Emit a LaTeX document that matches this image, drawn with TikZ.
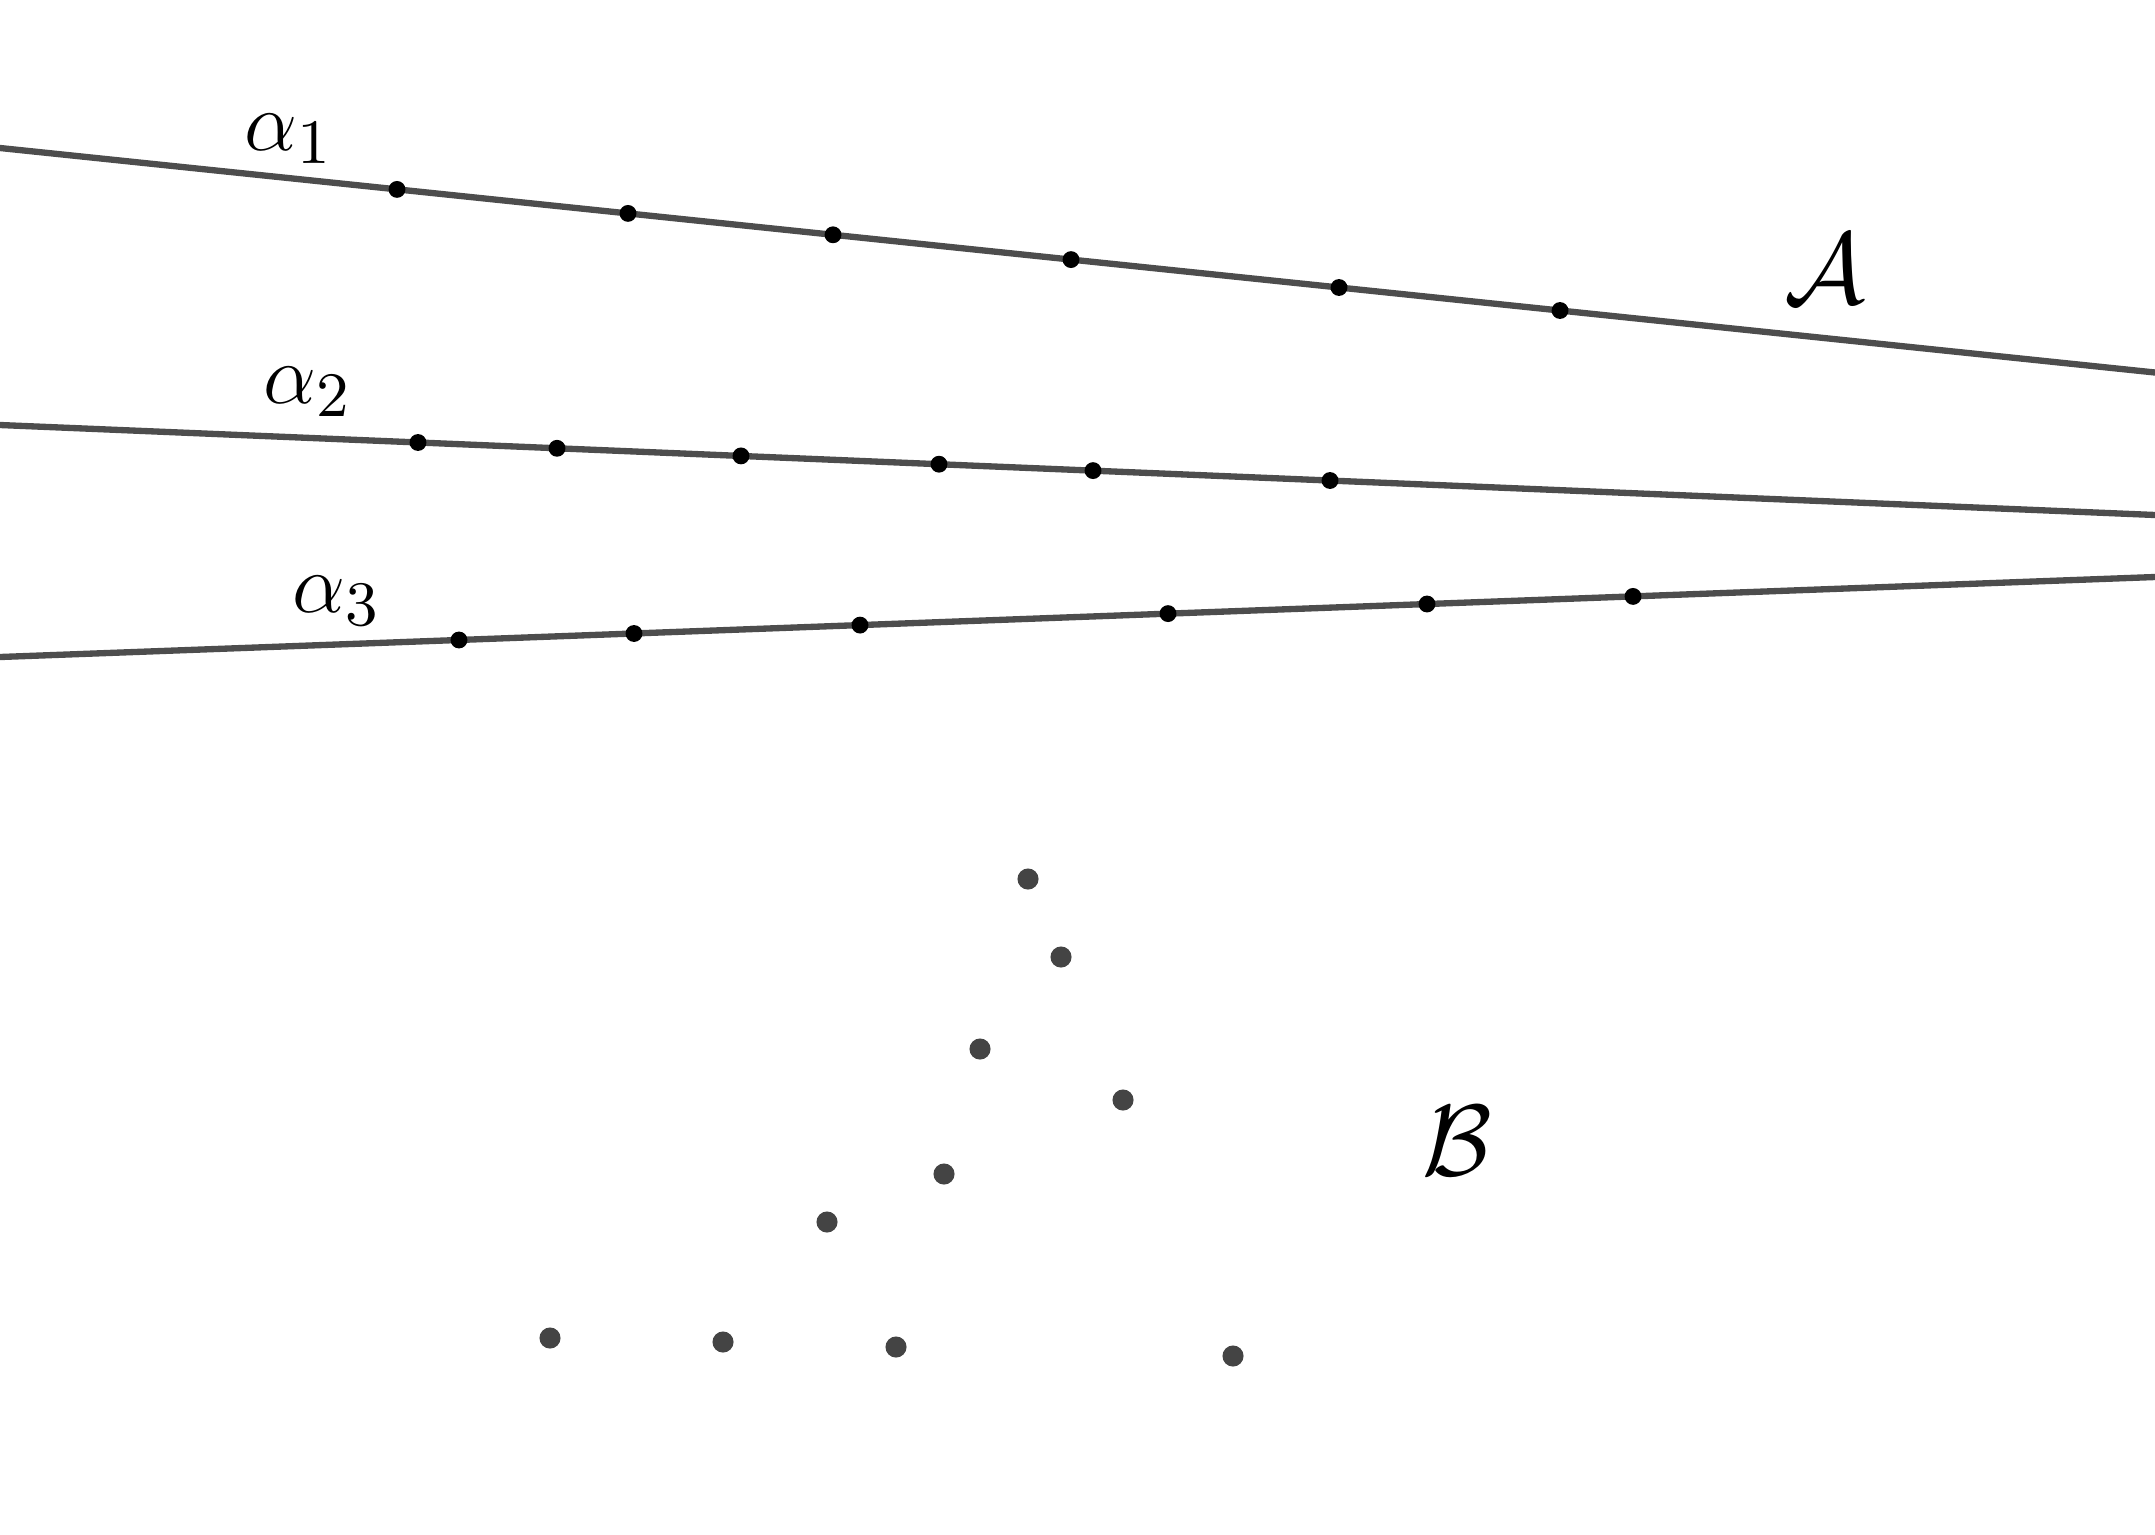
\documentclass[tikz,border=0pt]{standalone}
\usepackage{tkz-euclide}
\definecolor{linegray}{HTML}{4D4D4D}
\definecolor{dotgray}{HTML}{444444}
\tikzset{
  family/.style={line width=0.9pt,color=linegray},
  ptline/.style={fill=black},
  ptfree/.style={fill=dotgray},
  lbl/.style={font=\fontsize{13}{15}\selectfont},
  biglbl/.style={font=\fontsize{14}{17}\selectfont}
}

\begin{document}
\begin{tikzpicture}[x=0.5cm,y=0.5cm,line join=round]
    \useasboundingbox (0,0) rectangle (21.55,15.34);
    \tkzDefPoints{0/13.86/P1,21.55/11.615/Q1,0/11.09/P2,21.55/10.19/Q2,0/8.77/P3,21.55/9.57/Q3}
    \tkzDefPoints{3.97/13.446/a1,6.28/13.206/a2,8.33/12.992/a3,10.71/12.744/a4,13.39/12.465/a5,15.60/12.235/a6}
    \tkzDefPoints{4.18/10.915/b1,5.57/10.857/b2,7.41/10.781/b3,9.39/10.698/b4,10.93/10.634/b5,13.30/10.535/b6}
    \tkzDefPoints{4.59/8.940/c1,6.34/9.005/c2,8.60/9.089/c3,11.68/9.204/c4,14.27/9.300/c5,16.33/9.376/c6}
    \tkzDefPoints{10.28/6.55/q1,10.61/5.77/q2,9.80/4.85/q3,11.23/4.34/q4,9.44/3.60/q5}
    \tkzDefPoints{8.27/3.12/q6,5.50/1.96/q7,7.23/1.92/q8,8.96/1.87/q9,12.33/1.78/q10}
    \tkzDrawSegments[family](P1,Q1 P2,Q2 P3,Q3)
    \foreach \i in {1,...,6}
      \fill[ptline] (a\i) circle (1.2pt) (b\i) circle (1.2pt) (c\i) circle (1.2pt);
    \foreach \i in {1,...,10}
      \fill[ptfree] (q\i) circle (1.5pt);
    \node[lbl] (alpha1) at (2.89,13.95) {$\alpha_1$};
    \node[lbl] (alpha2) at (3.08,11.42) {$\alpha_2$};
    \node[lbl] (alpha3) at (3.37,9.33) {$\alpha_3$};
    \node[biglbl] (calA) at (18.25,12.65) {$\mathcal{A}$};
    \node[biglbl] (calB) at (14.57,3.93) {$\mathcal{B}$};
\end{tikzpicture}
\end{document}
